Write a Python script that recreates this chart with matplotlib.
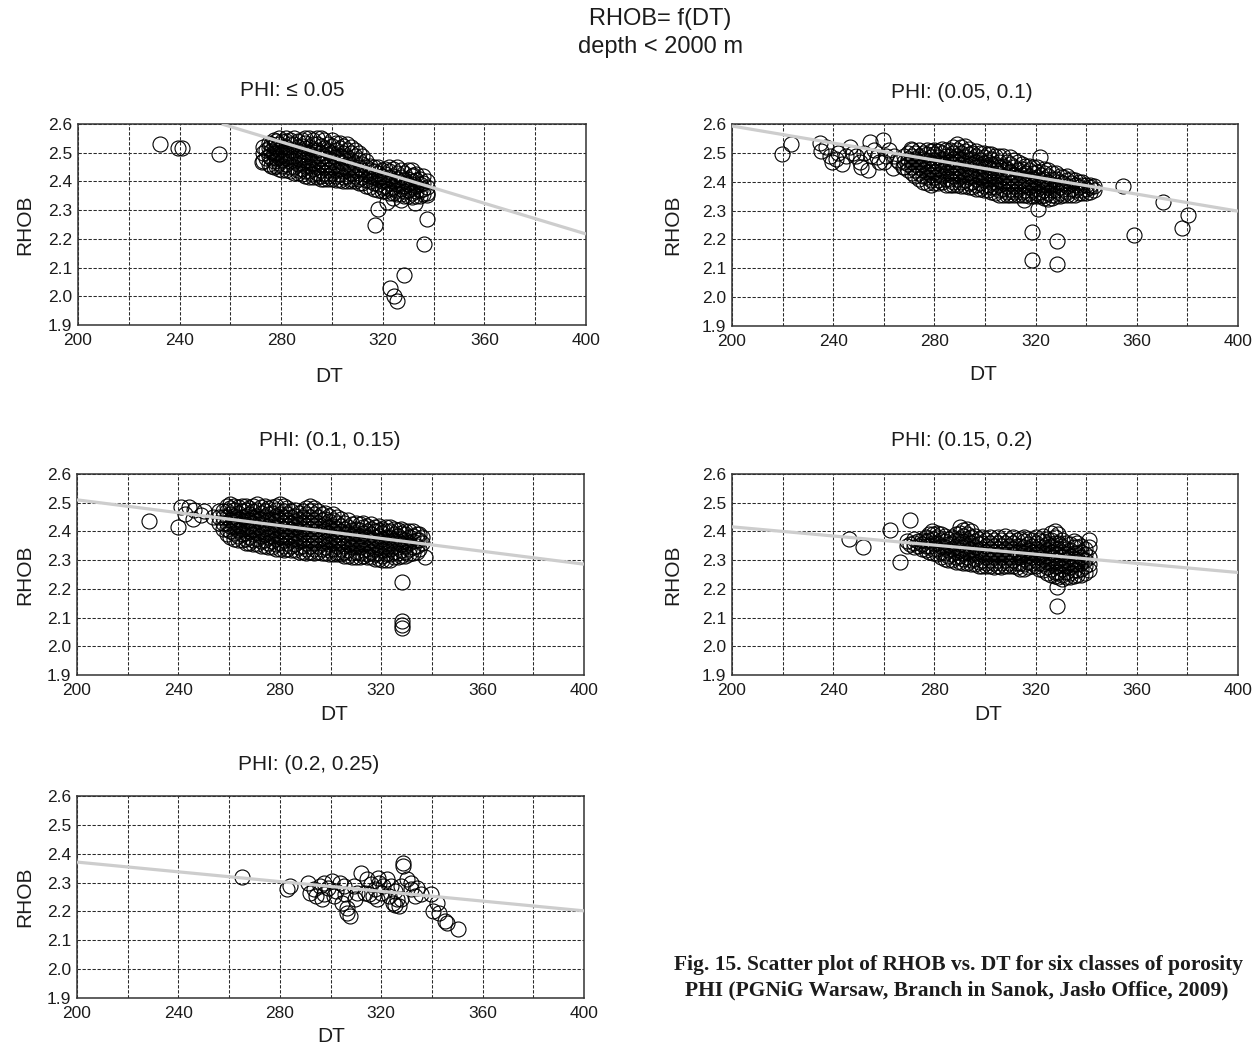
"""
RHOB = f(DT) scatter for five porosity classes (depth < 2000 m).

Dense clouds are written column by column: each DT column has a list of
RHOB values read off the picture, outliers are listed one by one.
"""

import matplotlib
matplotlib.use("Agg")
import matplotlib.pyplot as plt
from matplotlib.ticker import FormatStrFormatter
import numpy as np

W, H, DPI = 1260, 1047, 100
INK, GRID, FIT = "#1c1c1c", "#2a2a2a", "#cdcdcd"
SANS = ["Liberation Sans", "DejaVu Sans"]
SERIF = ["Liberation Serif", "DejaVu Serif"]

# ---------------------------------------------------------------------------
# data
# ---------------------------------------------------------------------------
PANEL_TITLES = ["PHI: \u2264 0.05", "PHI: (0.05, 0.1)", "PHI: (0.1, 0.15)",
                "PHI: (0.15, 0.2)", "PHI: (0.2, 0.25)"]
X_TICKS = [200, 240, 280, 320, 360, 400]
X_GRID_MINOR = [220, 260, 300, 340, 380]
Y_TICKS = [1.9, 2.0, 2.1, 2.2, 2.3, 2.4, 2.5, 2.6]

# fitted line end points per panel
FIT_DT0 = [256.6, 200, 200, 200, 200]
FIT_RHOB0 = [2.600, 2.593, 2.510, 2.416, 2.371]
FIT_DT1 = [400, 400, 400, 400, 400]
FIT_RHOB1 = [2.217, 2.298, 2.286, 2.257, 2.202]

# PHI <= 0.05
P1_COL_DT = [273, 275, 277, 279, 282, 285, 288, 291, 294, 297, 300, 303,
             306, 309, 312, 315, 318, 321, 324, 327, 330, 333, 336,
             274, 276, 278, 280.5, 283.5, 286.5, 289.5, 292.5, 295.5, 298.5,
             301.5, 304.5, 307.5, 310.5, 313.5, 316.5, 319.5, 322.5, 325.5,
             328.5, 331.5, 334.5, 337.5]
P1_COL_RHOB = [
    [2.47, 2.50, 2.52],
    [2.46, 2.49, 2.515, 2.535],
    [2.45, 2.47, 2.50, 2.525, 2.545],
    [2.445, 2.465, 2.485, 2.51, 2.53, 2.55],
    [2.44, 2.46, 2.48, 2.50, 2.52, 2.54, 2.55],
    [2.43, 2.45, 2.47, 2.49, 2.51, 2.53, 2.55],
    [2.425, 2.445, 2.465, 2.485, 2.505, 2.525, 2.545],
    [2.415, 2.435, 2.455, 2.475, 2.50, 2.52, 2.55],
    [2.415, 2.43, 2.45, 2.47, 2.49, 2.51, 2.53, 2.55],
    [2.41, 2.43, 2.45, 2.47, 2.49, 2.515, 2.545],
    [2.41, 2.43, 2.45, 2.475, 2.50, 2.525, 2.545],
    [2.405, 2.425, 2.445, 2.47, 2.49, 2.515, 2.535],
    [2.40, 2.42, 2.44, 2.46, 2.485, 2.51, 2.53],
    [2.40, 2.42, 2.44, 2.465, 2.49, 2.51],
    [2.395, 2.415, 2.44, 2.46, 2.49],
    [2.38, 2.40, 2.42, 2.44, 2.455],
    [2.37, 2.39, 2.41, 2.43, 2.45],
    [2.365, 2.385, 2.405, 2.425, 2.445],
    [2.36, 2.38, 2.40, 2.42, 2.445],
    [2.355, 2.375, 2.395, 2.415, 2.44],
    [2.35, 2.37, 2.39, 2.41, 2.44],
    [2.35, 2.365, 2.385, 2.405, 2.425],
    [2.355, 2.375, 2.395, 2.42],
    # in-between columns
    [2.48, 2.51],
    [2.455, 2.48, 2.505, 2.53],
    [2.455, 2.48, 2.50, 2.515, 2.54],
    [2.44, 2.455, 2.475, 2.495, 2.52, 2.54],
    [2.435, 2.45, 2.47, 2.49, 2.51, 2.53, 2.545],
    [2.43, 2.44, 2.46, 2.48, 2.50, 2.52, 2.54],
    [2.42, 2.435, 2.455, 2.475, 2.495, 2.515, 2.535, 2.55],
    [2.415, 2.425, 2.445, 2.465, 2.485, 2.51, 2.53, 2.545],
    [2.41, 2.42, 2.44, 2.46, 2.48, 2.50, 2.525, 2.55],
    [2.41, 2.42, 2.44, 2.46, 2.48, 2.505, 2.53],
    [2.405, 2.42, 2.44, 2.46, 2.485, 2.51, 2.535],
    [2.40, 2.415, 2.435, 2.455, 2.48, 2.50, 2.525],
    [2.40, 2.41, 2.43, 2.45, 2.475, 2.50, 2.52],
    [2.395, 2.41, 2.43, 2.45, 2.475, 2.50],
    [2.385, 2.405, 2.425, 2.45, 2.47],
    [2.375, 2.395, 2.415, 2.435, 2.45],
    [2.365, 2.38, 2.40, 2.42, 2.44],
    [2.36, 2.375, 2.395, 2.415, 2.435, 2.45],
    [2.355, 2.37, 2.39, 2.41, 2.43, 2.45],
    [2.35, 2.365, 2.385, 2.405, 2.43],
    [2.345, 2.36, 2.38, 2.40, 2.42, 2.44],
    [2.35, 2.37, 2.39, 2.41],
    [2.36, 2.38, 2.40],
]
P1_DT = [232.3, 239.3, 241.0, 255.5, 272.5, 318.0, 317.0, 321.6, 324.0,
         327.0, 332.5, 337.5, 337.3, 336.2, 328.3, 323.0, 324.4, 325.5, 331.7]
P1_RHOB = [2.529, 2.515, 2.515, 2.496, 2.469, 2.304, 2.249, 2.330, 2.342,
           2.336, 2.325, 2.354, 2.270, 2.183, 2.073, 2.029, 2.000, 1.983, 2.423]

# PHI (0.05, 0.1)
P2_COL_DT = [268, 271, 274, 277, 280, 283, 286, 289, 292, 295, 298, 301,
             304, 307, 310, 313, 316, 319, 322, 325, 328, 331, 334, 337,
             340, 343,
             269.5, 272.5, 275.5, 278.5, 281.5, 284.5, 287.5, 290.5, 293.5,
             296.5, 299.5, 302.5, 305.5, 308.5, 311.5, 314.5, 317.5, 320.5,
             323.5, 326.5, 329.5, 332.5, 335.5, 338.5, 341.5]
P2_COL_RHOB = [
    [2.45, 2.47, 2.49],
    [2.43, 2.45, 2.47, 2.49, 2.51],
    [2.41, 2.43, 2.45, 2.47, 2.49, 2.51],
    [2.395, 2.415, 2.435, 2.455, 2.475, 2.495, 2.51],
    [2.395, 2.415, 2.435, 2.455, 2.475, 2.495, 2.51],
    [2.40, 2.42, 2.44, 2.46, 2.48, 2.50, 2.515],
    [2.39, 2.41, 2.43, 2.45, 2.47, 2.49, 2.51],
    [2.39, 2.41, 2.43, 2.45, 2.47, 2.49, 2.51, 2.53],
    [2.385, 2.405, 2.425, 2.445, 2.465, 2.485, 2.505, 2.525],
    [2.38, 2.40, 2.42, 2.44, 2.46, 2.48, 2.50],
    [2.375, 2.395, 2.415, 2.435, 2.455, 2.475, 2.50],
    [2.37, 2.39, 2.41, 2.43, 2.45, 2.47, 2.495],
    [2.36, 2.38, 2.40, 2.42, 2.44, 2.46, 2.49],
    [2.355, 2.375, 2.395, 2.415, 2.435, 2.455, 2.49],
    [2.355, 2.375, 2.395, 2.415, 2.435, 2.46, 2.485],
    [2.355, 2.375, 2.395, 2.415, 2.44, 2.47],
    [2.355, 2.37, 2.39, 2.41, 2.43, 2.455],
    [2.35, 2.37, 2.39, 2.41, 2.43, 2.45],
    [2.35, 2.365, 2.385, 2.405, 2.425],
    [2.34, 2.36, 2.38, 2.40, 2.42, 2.44],
    [2.35, 2.37, 2.39, 2.41, 2.43],
    [2.355, 2.375, 2.395, 2.415],
    [2.355, 2.375, 2.395, 2.41],
    [2.36, 2.38, 2.40],
    [2.36, 2.375, 2.39],
    [2.37, 2.385],
    # in-between columns
    [2.44, 2.46, 2.48, 2.50],
    [2.42, 2.44, 2.46, 2.48, 2.50],
    [2.40, 2.42, 2.44, 2.46, 2.48, 2.50],
    [2.39, 2.405, 2.425, 2.445, 2.465, 2.485, 2.505],
    [2.395, 2.405, 2.425, 2.445, 2.465, 2.485, 2.505],
    [2.39, 2.41, 2.43, 2.45, 2.47, 2.49, 2.51],
    [2.39, 2.40, 2.42, 2.44, 2.46, 2.48, 2.50, 2.52],
    [2.385, 2.40, 2.42, 2.44, 2.46, 2.48, 2.50, 2.52],
    [2.38, 2.395, 2.415, 2.435, 2.455, 2.475, 2.495, 2.515],
    [2.375, 2.39, 2.41, 2.43, 2.45, 2.47, 2.49, 2.505],
    [2.37, 2.385, 2.405, 2.425, 2.445, 2.465, 2.485, 2.50],
    [2.365, 2.38, 2.40, 2.42, 2.44, 2.46, 2.48, 2.495],
    [2.355, 2.37, 2.39, 2.41, 2.43, 2.45, 2.47, 2.49],
    [2.355, 2.365, 2.385, 2.405, 2.425, 2.445, 2.47],
    [2.355, 2.365, 2.385, 2.405, 2.425, 2.45, 2.475],
    [2.355, 2.365, 2.385, 2.405, 2.425, 2.445, 2.46],
    [2.35, 2.36, 2.38, 2.40, 2.42, 2.44, 2.455],
    [2.35, 2.36, 2.375, 2.395, 2.415, 2.435, 2.45],
    [2.345, 2.355, 2.37, 2.39, 2.41, 2.43, 2.445],
    [2.345, 2.355, 2.37, 2.39, 2.41, 2.43],
    [2.35, 2.36, 2.38, 2.40, 2.42],
    [2.355, 2.365, 2.385, 2.405, 2.42],
    [2.355, 2.37, 2.39, 2.405],
    [2.36, 2.37, 2.39, 2.40],
    [2.365, 2.38, 2.39],
]
P2_DT = [234.8, 235.0, 238.8, 239.5, 243.4, 246.5, 242.0, 250.5, 253.6,
         251.0, 254.4, 259.8, 257.5, 262.2, 265.3, 263.8, 270.8, 267.7,
         248.0, 256.0, 260.0, 264.0, 266.0, 261.0, 258.0, 255.0, 252.0,
         249.0, 245.0, 241.0, 237.0,
         219.7, 223.4, 354.7, 370.3, 380.2, 377.8,
         358.8, 318.4, 328.3, 318.4, 328.3, 320.8, 315.3, 321.6]
P2_RHOB = [2.533, 2.505, 2.490, 2.469, 2.463, 2.521, 2.500, 2.469, 2.440,
           2.450, 2.539, 2.544, 2.487, 2.510, 2.475, 2.446, 2.515, 2.452,
           2.500, 2.510, 2.470, 2.490, 2.470, 2.490, 2.470, 2.490, 2.500,
           2.490, 2.490, 2.480, 2.520,
           2.495, 2.530, 2.385, 2.328, 2.284, 2.240,
           2.217, 2.226, 2.194, 2.127, 2.116, 2.305, 2.336, 2.486]

# PHI (0.1, 0.15)
P3_COL_DT = [256, 259, 262, 265, 268, 271, 274, 277, 280, 283, 286, 289,
             292, 295, 298, 301, 304, 307, 310, 313, 316, 319, 322, 325,
             328, 331, 334, 336,
             257.5, 260.5, 263.5, 266.5, 269.5, 272.5, 275.5, 278.5, 281.5,
             284.5, 287.5, 290.5, 293.5, 296.5, 299.5, 302.5, 305.5, 308.5,
             311.5, 314.5, 317.5, 320.5, 323.5, 326.5, 329.5, 332.5, 335]
P3_COL_RHOB = [
    [2.43, 2.45, 2.47],
    [2.39, 2.41, 2.43, 2.45, 2.47, 2.49],
    [2.375, 2.395, 2.415, 2.435, 2.455, 2.475, 2.49],
    [2.37, 2.39, 2.41, 2.43, 2.45, 2.47, 2.49],
    [2.36, 2.38, 2.40, 2.42, 2.44, 2.46, 2.48],
    [2.355, 2.375, 2.395, 2.415, 2.435, 2.455, 2.475, 2.495],
    [2.35, 2.37, 2.39, 2.41, 2.43, 2.45, 2.47, 2.49],
    [2.345, 2.365, 2.385, 2.405, 2.425, 2.445, 2.465, 2.485],
    [2.34, 2.36, 2.38, 2.40, 2.42, 2.44, 2.46, 2.495],
    [2.34, 2.36, 2.38, 2.40, 2.42, 2.44, 2.46, 2.48],
    [2.335, 2.355, 2.375, 2.395, 2.415, 2.435, 2.455, 2.475],
    [2.33, 2.35, 2.37, 2.39, 2.41, 2.43, 2.45, 2.47],
    [2.33, 2.35, 2.37, 2.39, 2.41, 2.43, 2.45, 2.47, 2.49],
    [2.33, 2.35, 2.37, 2.39, 2.41, 2.43, 2.45, 2.47],
    [2.325, 2.345, 2.365, 2.385, 2.405, 2.425, 2.445, 2.465],
    [2.32, 2.34, 2.36, 2.38, 2.40, 2.42, 2.44, 2.46],
    [2.32, 2.34, 2.36, 2.38, 2.40, 2.42, 2.445],
    [2.315, 2.335, 2.355, 2.375, 2.395, 2.415, 2.44],
    [2.31, 2.33, 2.35, 2.37, 2.39, 2.41, 2.43],
    [2.315, 2.335, 2.355, 2.375, 2.395, 2.415, 2.43],
    [2.31, 2.33, 2.35, 2.37, 2.39, 2.41, 2.425],
    [2.305, 2.325, 2.345, 2.365, 2.385, 2.405, 2.42],
    [2.30, 2.32, 2.34, 2.36, 2.38, 2.40, 2.415],
    [2.31, 2.33, 2.35, 2.37, 2.39, 2.41],
    [2.315, 2.335, 2.355, 2.375, 2.395, 2.41],
    [2.32, 2.34, 2.36, 2.38, 2.40],
    [2.33, 2.35, 2.37, 2.39],
    [2.36, 2.38],
    # in-between columns
    [2.41, 2.43, 2.45, 2.47],
    [2.38, 2.40, 2.42, 2.44, 2.46, 2.48, 2.495],
    [2.37, 2.385, 2.405, 2.425, 2.445, 2.465, 2.485],
    [2.36, 2.375, 2.395, 2.415, 2.435, 2.455, 2.475, 2.49],
    [2.355, 2.37, 2.39, 2.41, 2.43, 2.45, 2.47, 2.49],
    [2.35, 2.365, 2.385, 2.405, 2.425, 2.445, 2.465, 2.485],
    [2.345, 2.36, 2.38, 2.40, 2.42, 2.44, 2.46, 2.48],
    [2.34, 2.355, 2.375, 2.395, 2.415, 2.435, 2.455, 2.475, 2.49],
    [2.335, 2.35, 2.37, 2.39, 2.41, 2.43, 2.45, 2.47, 2.49],
    [2.335, 2.35, 2.37, 2.39, 2.41, 2.43, 2.45, 2.47],
    [2.33, 2.345, 2.365, 2.385, 2.405, 2.425, 2.445, 2.465],
    [2.325, 2.34, 2.36, 2.38, 2.40, 2.42, 2.44, 2.46, 2.48],
    [2.325, 2.34, 2.36, 2.38, 2.40, 2.42, 2.44, 2.46, 2.48],
    [2.325, 2.34, 2.36, 2.38, 2.40, 2.42, 2.44, 2.46],
    [2.32, 2.335, 2.355, 2.375, 2.395, 2.415, 2.435, 2.455],
    [2.32, 2.33, 2.35, 2.37, 2.39, 2.41, 2.43, 2.45],
    [2.315, 2.33, 2.35, 2.37, 2.39, 2.41, 2.43],
    [2.31, 2.325, 2.345, 2.365, 2.385, 2.405, 2.425],
    [2.31, 2.325, 2.345, 2.365, 2.385, 2.405, 2.425],
    [2.31, 2.32, 2.34, 2.36, 2.38, 2.40, 2.42],
    [2.305, 2.32, 2.34, 2.36, 2.38, 2.40, 2.415],
    [2.30, 2.315, 2.335, 2.355, 2.375, 2.395, 2.41],
    [2.30, 2.32, 2.34, 2.36, 2.38, 2.40, 2.415],
    [2.31, 2.325, 2.345, 2.365, 2.385, 2.405],
    [2.315, 2.33, 2.35, 2.37, 2.39, 2.40],
    [2.325, 2.345, 2.365, 2.385, 2.40],
    [2.34, 2.37, 2.39],
]
P3_DT = [241.0, 244.0, 242.6, 245.8, 248.9, 253.6, 246.0, 250.0, 228.3,
         239.8, 328.3, 328.3, 328.3, 328.3, 337.2]
P3_RHOB = [2.486, 2.486, 2.462, 2.445, 2.457, 2.451, 2.475, 2.470, 2.437,
           2.414, 2.225, 2.087, 2.075, 2.064, 2.312]

# PHI (0.15, 0.2)
P4_COL_DT = [269, 272, 275, 278, 281, 284, 287, 290, 293, 296, 299, 302,
             305, 308, 311, 314, 317, 320, 323, 326, 329, 332, 335, 338, 341,
             270.5, 273.5, 276.5, 279.5, 282.5, 285.5, 288.5, 291.5, 294.5,
             297.5, 300.5, 303.5, 306.5, 309.5, 312.5, 315.5, 318.5, 321.5,
             324.5, 327.5, 330.5, 333.5, 336.5, 339.5]
P4_COL_RHOB = [
    [2.35, 2.365],
    [2.345, 2.36, 2.375],
    [2.34, 2.355, 2.37],
    [2.33, 2.35, 2.37, 2.39],
    [2.32, 2.34, 2.36, 2.38, 2.395],
    [2.305, 2.325, 2.345, 2.365, 2.385],
    [2.30, 2.32, 2.34, 2.36, 2.38],
    [2.295, 2.315, 2.335, 2.355, 2.375, 2.395, 2.415],
    [2.29, 2.31, 2.33, 2.35, 2.37, 2.39, 2.41],
    [2.285, 2.305, 2.325, 2.345, 2.365, 2.385],
    [2.28, 2.30, 2.32, 2.34, 2.36, 2.38],
    [2.28, 2.30, 2.32, 2.34, 2.36, 2.38],
    [2.28, 2.30, 2.32, 2.34, 2.36, 2.38],
    [2.28, 2.30, 2.32, 2.34, 2.36, 2.385],
    [2.28, 2.30, 2.32, 2.34, 2.36, 2.38],
    [2.27, 2.29, 2.31, 2.33, 2.35, 2.375],
    [2.275, 2.295, 2.315, 2.335, 2.355, 2.375],
    [2.28, 2.30, 2.32, 2.34, 2.36, 2.38],
    [2.265, 2.285, 2.305, 2.325, 2.345, 2.365, 2.385],
    [2.25, 2.27, 2.29, 2.31, 2.33, 2.35, 2.37, 2.395],
    [2.24, 2.26, 2.28, 2.30, 2.32, 2.34, 2.36, 2.39],
    [2.24, 2.26, 2.28, 2.30, 2.32, 2.34, 2.36],
    [2.245, 2.265, 2.285, 2.305, 2.325, 2.345, 2.365],
    [2.25, 2.27, 2.29, 2.31, 2.33, 2.35],
    [2.265, 2.285, 2.31, 2.345, 2.37],
    # in-between columns
    [2.355],
    [2.35, 2.365],
    [2.335, 2.35, 2.365, 2.38],
    [2.325, 2.34, 2.36, 2.375, 2.39],
    [2.31, 2.33, 2.35, 2.37, 2.39],
    [2.30, 2.315, 2.335, 2.355, 2.375],
    [2.295, 2.31, 2.33, 2.35, 2.37, 2.39],
    [2.29, 2.305, 2.325, 2.345, 2.365, 2.385, 2.405],
    [2.285, 2.30, 2.32, 2.34, 2.36, 2.38, 2.40],
    [2.28, 2.295, 2.315, 2.335, 2.355, 2.375],
    [2.28, 2.29, 2.31, 2.33, 2.35, 2.37],
    [2.275, 2.29, 2.31, 2.33, 2.35, 2.37],
    [2.275, 2.29, 2.31, 2.33, 2.35, 2.37],
    [2.28, 2.29, 2.31, 2.33, 2.35, 2.37],
    [2.275, 2.29, 2.31, 2.33, 2.35, 2.37],
    [2.27, 2.285, 2.305, 2.325, 2.345, 2.365, 2.38],
    [2.28, 2.29, 2.31, 2.33, 2.35, 2.37],
    [2.27, 2.29, 2.31, 2.33, 2.35, 2.37],
    [2.255, 2.275, 2.295, 2.315, 2.335, 2.355, 2.375],
    [2.245, 2.26, 2.28, 2.30, 2.32, 2.34, 2.36, 2.38, 2.40],
    [2.235, 2.25, 2.27, 2.29, 2.31, 2.33, 2.35, 2.37],
    [2.24, 2.255, 2.275, 2.295, 2.315, 2.335, 2.355],
    [2.25, 2.265, 2.285, 2.305, 2.325, 2.345, 2.36],
    [2.255, 2.28, 2.30, 2.32, 2.34],
]
P4_DT = [246.3, 251.6, 262.5, 270.5, 266.4, 328.3, 328.3, 279.0]
P4_RHOB = [2.372, 2.347, 2.405, 2.440, 2.293, 2.139, 2.208, 2.400]

# PHI (0.2, 0.25) - sparse, every circle listed
P5_COL_DT = []
P5_COL_RHOB = []
P5_DT = [265.2, 283.0, 284.1, 291.1, 293.4, 295.8, 297.3, 298.9, 300.5,
         302.0, 304.4, 306.7, 306.7, 307.5, 305.9, 309.1, 310.6, 312.2,
         313.8, 316.1, 317.7, 319.2, 320.0, 322.3, 323.1, 324.7, 325.5,
         328.6, 328.6, 330.2, 331.7, 333.3, 335.6, 339.5, 340.3, 341.9,
         342.7, 345.0, 345.8, 350.2, 291.9, 294.2, 296.6, 303.6, 309.8,
         316.9, 318.4, 320.8, 323.9, 326.3, 327.0, 327.8, 315.3, 325.5,
         327.8, 331.7, 297.3, 301.3, 305.2, 314.5, 318.9, 334.1]
P5_RHOB = [2.319, 2.276, 2.288, 2.299, 2.276, 2.288, 2.259, 2.282, 2.305,
           2.271, 2.230, 2.195, 2.213, 2.184, 2.259, 2.288, 2.265, 2.334,
           2.265, 2.294, 2.276, 2.299, 2.265, 2.311, 2.253, 2.230, 2.271,
           2.357, 2.369, 2.311, 2.276, 2.253, 2.259, 2.259, 2.201, 2.230,
           2.195, 2.166, 2.161, 2.138, 2.265, 2.253, 2.242, 2.299, 2.242,
           2.253, 2.242, 2.288, 2.288, 2.242, 2.218, 2.242, 2.259, 2.224,
           2.288, 2.299, 2.299, 2.253, 2.288, 2.311, 2.317, 2.282]

# ---------------------------------------------------------------------------
# layout (pixel boxes: left, top, right, bottom) and label anchors
# ---------------------------------------------------------------------------
BOXES = [(78, 124, 586, 325), (732, 124, 1238, 326), (77, 474, 584, 675),
         (732, 474, 1238, 675), (77, 796, 584, 998)]
TITLE_XY = [(292, 91), (962, 92), (330, 440), (962, 440), (309, 765)]
XLABEL_XY = [(329, 376), (983, 375), (334, 714), (988, 714), (331, 1036)]
YLABEL_X = [25, 673, 25, 673, 25]


def fx(x):
    return x / W


def fy(y):
    return 1 - y / H


def expand(col_dt, col_rhob, dt, rhob):
    xs = [d for d, col in zip(col_dt, col_rhob) for _ in col] + list(dt)
    ys = [r for col in col_rhob for r in col] + list(rhob)
    return np.array(xs, dtype=float), np.array(ys, dtype=float)


def style_axis(ax):
    ax.set_xlim(200, 400)
    ax.set_ylim(1.9, 2.6)
    ax.set_xticks(X_TICKS)
    ax.set_xticks(X_GRID_MINOR, minor=True)
    ax.set_yticks(Y_TICKS)
    ax.yaxis.set_major_formatter(FormatStrFormatter("%.1f"))
    ax.tick_params(which="both", length=0, labelsize=12.5, colors=INK)
    ax.tick_params(axis="x", pad=6)
    ax.tick_params(axis="y", pad=4)
    for lbl in ax.get_xticklabels() + ax.get_yticklabels():
        lbl.set_family(SANS)
    ax.grid(True, which="both", color=GRID, linewidth=0.75,
            linestyle=(0, (3.2, 1.6)))
    ax.set_axisbelow(True)
    for spine in ax.spines.values():
        spine.set_color("#333333")
        spine.set_linewidth(1.1)


def main():
    panels = [
        expand(P1_COL_DT, P1_COL_RHOB, P1_DT, P1_RHOB),
        expand(P2_COL_DT, P2_COL_RHOB, P2_DT, P2_RHOB),
        expand(P3_COL_DT, P3_COL_RHOB, P3_DT, P3_RHOB),
        expand(P4_COL_DT, P4_COL_RHOB, P4_DT, P4_RHOB),
        expand(P5_COL_DT, P5_COL_RHOB, P5_DT, P5_RHOB),
    ]

    fig = plt.figure(figsize=(W / DPI, H / DPI), dpi=DPI, facecolor="white")

    for i, (dt, rhob) in enumerate(panels):
        l, t, r, b = BOXES[i]
        ax = fig.add_axes([fx(l), fy(b), (r - l) / W, (b - t) / H])
        style_axis(ax)
        ax.plot(dt, rhob, "o", markerfacecolor="none", markeredgecolor="black",
                markersize=10.8, markeredgewidth=0.8, zorder=2)
        ax.plot([FIT_DT0[i], FIT_DT1[i]], [FIT_RHOB0[i], FIT_RHOB1[i]],
                color=FIT, linewidth=2.3, zorder=3, solid_capstyle="butt")

        tx, ty = TITLE_XY[i]
        fig.text(fx(tx), fy(ty), PANEL_TITLES[i], ha="center", va="center",
                 fontsize=15, color=INK, family=SANS)
        xx, xy = XLABEL_XY[i]
        fig.text(fx(xx), fy(xy), "DT", ha="center", va="center",
                 fontsize=15, color=INK, family=SANS)
        fig.text(fx(YLABEL_X[i]), fy((t + b) / 2), "RHOB", ha="center",
                 va="center", rotation=90, fontsize=15, color=INK, family=SANS)

    fig.text(fx(660), fy(19), "RHOB= f(DT)", ha="center", va="center",
             fontsize=17, color=INK, family=SANS)
    fig.text(fx(660), fy(47), "depth < 2000 m", ha="center", va="center",
             fontsize=17, color=INK, family=SANS)

    fig.text(fx(958), fy(965),
             "Fig. 15. Scatter plot of RHOB vs. DT for six classes of porosity",
             ha="center", va="center", fontsize=15.5, fontweight="bold",
             color=INK, family=SERIF)
    fig.text(fx(957), fy(990),
             "PHI (PGNiG Warsaw, Branch in Sanok, Jas\u0142o Office, 2009)",
             ha="center", va="center", fontsize=15.5, fontweight="bold",
             color=INK, family=SERIF)

    fig.savefig("out.png", dpi=DPI, facecolor="white")
    plt.close(fig)


if __name__ == "__main__":
    main()
